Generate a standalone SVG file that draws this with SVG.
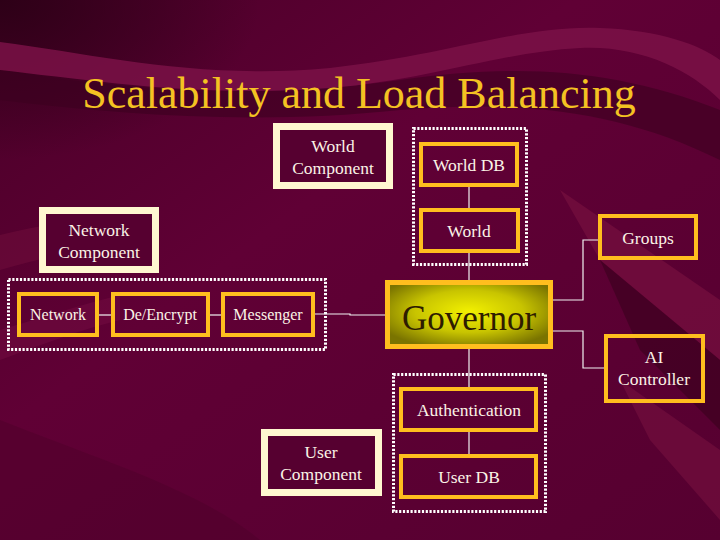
<svg xmlns="http://www.w3.org/2000/svg" width="720" height="540" viewBox="0 0 720 540">
<defs>
<style>
.o{fill:none;stroke:#ffbe1e;stroke-width:4}
.c{fill:#560030;stroke:#fff7d0;stroke-width:7}
.d{fill:none;stroke:#ffffff;stroke-width:3;stroke-dasharray:2.2 1.6}
.s{font-family:"Liberation Serif","Times New Roman",serif}
.t{font-size:17.5px;fill:#fbf3e6;text-anchor:middle}
.n{font-size:16px}
.k{fill:none;stroke:#f2f2f2;stroke-width:1.2}
</style>
<radialGradient id="gov" cx="50%" cy="45%" r="60%">
<stop offset="0" stop-color="#f2f000"/>
<stop offset="0.55" stop-color="#c8c400"/>
<stop offset="1" stop-color="#7a7400"/>
</radialGradient>
<radialGradient id="tl" cx="0" cy="0" r="1" gradientUnits="objectBoundingBox">
<stop offset="0" stop-color="#2a0015" stop-opacity="0.9"/>
<stop offset="1" stop-color="#2a0015" stop-opacity="0"/>
</radialGradient>
<linearGradient id="bg" x1="0" y1="0" x2="1" y2="1">
<stop offset="0" stop-color="#4a0028"/>
<stop offset="0.4" stop-color="#600035"/>
<stop offset="1" stop-color="#560030"/>
</linearGradient>
</defs>
<g id="background">
<rect width="720" height="540" fill="url(#bg)"/>
<rect width="260" height="160" fill="url(#tl)"/>
<path d="M0,70 C120,90 260,100 400,80 C520,62 620,70 720,110 L720,160 C620,110 520,100 400,110 C260,125 120,115 0,100 Z" fill="#3c001f" opacity="0.6"/>
<path d="M0,42 C100,55 200,80 330,68 C450,55 520,25 600,28 C660,30 700,45 720,60 L720,100 C690,70 640,45 580,48 C500,52 430,80 330,88 C200,98 90,80 0,70 Z" fill="#7a1046" opacity="0.85"/>
<path d="M560,190 L720,300 L720,360 L600,260 Z" fill="#76103f" opacity="0.7"/>
<path d="M600,260 L720,360 L720,430 L640,350 Z" fill="#38001c" opacity="0.6"/>
<path d="M620,380 L720,450 L720,520 L650,440 Z" fill="#76103f" opacity="0.6"/>
<path d="M0,235 C40,225 80,220 120,215 L120,245 C80,250 40,258 0,270 Z" fill="#76103f" opacity="0.45"/>
<path d="M0,330 C40,318 80,305 120,295 L120,320 C80,330 40,345 0,360 Z" fill="#7a1046" opacity="0.4"/>
<path d="M0,420 C100,460 200,490 260,540 L0,540 Z" fill="#4a0028" opacity="0.4"/>
</g>
<text class="s" x="359" y="108" font-size="44" fill="#f4c222" text-anchor="middle">Scalability and Load Balancing</text>
<g id="groups-dotted">
<rect id="world-group" class="d" x="413.5" y="128.5" width="113" height="136"/>
<rect id="network-group" class="d" x="8.5" y="279.5" width="317" height="70"/>
<rect id="user-group" class="d" x="393.5" y="374.5" width="152" height="137"/>
</g>
<g id="connectors">
<path class="k" d="M469,187 V208"/>
<path class="k" d="M469,253 V280"/>
<path class="k" d="M99,315 H111"/>
<path class="k" d="M210,315 H221"/>
<path class="k" d="M315,314 H350 V315 H385"/>
<path class="k" d="M553,300 H583 V240 H598"/>
<path class="k" d="M553,331 H583 V368 H604"/>
<path class="k" d="M469,349 V387"/>
<path class="k" d="M469,432 V454"/>
</g>
<g id="world-component"><rect class="c" x="276.5" y="126.5" width="113" height="59"/><text class="s t" x="333" y="152">World</text><text class="s t" x="333" y="174">Component</text></g>
<g id="network-component"><rect class="c" x="42.5" y="210.5" width="113" height="59"/><text class="s t" x="99" y="236">Network</text><text class="s t" x="99" y="258">Component</text></g>
<g id="user-component"><rect class="c" x="264.5" y="432.5" width="114" height="60"/><text class="s t" x="321" y="458">User</text><text class="s t" x="321" y="480">Component</text></g>
<g id="world-db"><rect class="o" x="421" y="144" width="96" height="41"/><text class="s t" x="469" y="171">World DB</text></g>
<g id="world"><rect class="o" x="421" y="210" width="97" height="41"/><text class="s t" x="469" y="237">World</text></g>
<g id="groups"><rect class="o" x="600" y="216" width="96" height="42"/><text class="s t" x="648" y="244">Groups</text></g>
<g id="network"><rect class="o" x="19" y="294" width="78" height="41"/><text class="s t n" x="58" y="320">Network</text></g>
<g id="de-encrypt"><rect class="o" x="113" y="294" width="95" height="41"/><text class="s t n" x="160" y="320">De/Encrypt</text></g>
<g id="messenger"><rect class="o" x="223" y="294" width="90" height="41"/><text class="s t n" x="268" y="320">Messenger</text></g>
<g id="governor"><rect x="387.5" y="282.5" width="163" height="64" fill="url(#gov)" stroke="#ffbe1e" stroke-width="5"/><text class="s" x="469" y="330" font-size="35" fill="#2e1c00" text-anchor="middle">Governor</text></g>
<g id="ai-controller"><rect class="o" x="606" y="336" width="97" height="65"/><text class="s t" x="654" y="363">AI</text><text class="s t" x="654" y="385">Controller</text></g>
<g id="authentication"><rect class="o" x="401" y="389" width="135" height="41"/><text class="s t" x="469" y="416">Authentication</text></g>
<g id="user-db"><rect class="o" x="401" y="456" width="135" height="41"/><text class="s t" x="469" y="483">User DB</text></g>
</svg>
